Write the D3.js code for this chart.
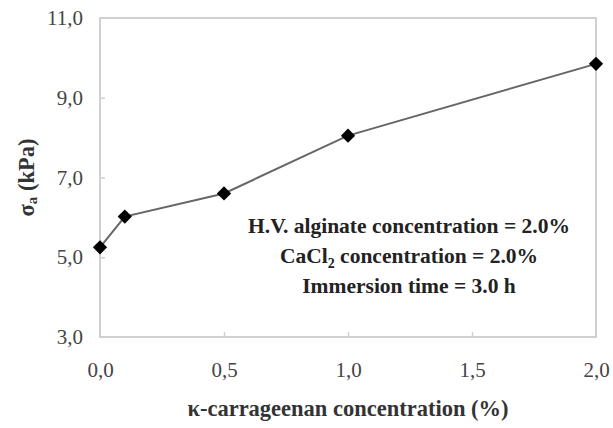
<!DOCTYPE html>
<html>
<head>
<meta charset="utf-8">
<script src="https://cdn.jsdelivr.net/npm/d3@7"></script>
<style>
  body { margin: 0; background: #fff; }
</style>
</head>
<body>
<div id="chart"></div>
<script>
// data
const concentration = [0.0, 0.1, 0.5, 1.0, 2.0]
const sigma = [5.25, 6.02, 6.6, 8.05, 9.85]
const xTicks = [0.0, 0.5, 1.0, 1.5, 2.0]
const yTicks = [3, 5, 7, 9, 11]
const notes = ['H.V. alginate concentration = 2.0%', 'CaCl|2| concentration = 2.0%', 'Immersion time = 3.0 h']

const width = 613, height = 428
const margin = {top: 18, right: 17, bottom: 91, left: 100}
const serif = 'Liberation Serif'

const svg = d3.select('#chart').append('svg')
  .attr('width', width)
  .attr('height', height)

const x = d3.scaleLinear().domain([0, 2]).range([margin.left, width - margin.right])
const y = d3.scaleLinear().domain([3, 11]).range([height - margin.bottom, margin.top])

const fmt = d => d3.format('.1f')(d).replace('.', ',')

// frame
svg.append('rect')
  .attr('x', x(0)).attr('y', y(11))
  .attr('width', x(2) - x(0)).attr('height', y(3) - y(11))
  .attr('fill', 'none').attr('stroke', '#d0d0d0').attr('stroke-width', 2)

// axes
const yAxis = svg.append('g')
  .attr('transform', `translate(${x(0)},0)`)
  .call(d3.axisLeft(y).tickValues(yTicks).tickFormat(fmt).tickSize(-5).tickPadding(17))
const xAxis = svg.append('g')
  .attr('transform', `translate(0,${y(3)})`)
  .call(d3.axisBottom(x).tickValues(xTicks).tickFormat(fmt).tickSize(-5).tickPadding(25))

;[xAxis, yAxis].forEach(g => {
  g.select('.domain').remove()
  g.selectAll('line').attr('stroke', '#d0d0d0').attr('stroke-width', 1.5)
  g.selectAll('text')
    .attr('font-family', serif)
    .attr('font-size', 21)
    .attr('fill', '#444')
})
xAxis.selectAll('.tick').filter(d => d === 0 || d === 2).select('line').remove()
yAxis.selectAll('.tick').filter(d => d === 3 || d === 11).select('line').remove()

// line + markers
const line = d3.line().x((d, i) => x(concentration[i])).y(d => y(d))
svg.append('path')
  .datum(sigma)
  .attr('d', line)
  .attr('fill', 'none')
  .attr('stroke', '#666')
  .attr('stroke-width', 2)

svg.append('g')
  .selectAll('path')
  .data(sigma)
  .join('path')
  .attr('d', d3.symbol(d3.symbolDiamond2, 130))
  .attr('transform', (d, i) => `translate(${x(concentration[i])},${y(d)})`)
  .attr('fill', '#000')

// annotation
const note = svg.append('text')
  .attr('font-family', serif)
  .attr('text-anchor', 'middle')
  .attr('font-weight', 'bold')
  .attr('font-size', 21.5)
  .attr('fill', '#222')
notes.forEach((s, i) => {
  const t = note.append('tspan').attr('x', 409).attr('y', 233 + i * 30)
  s.split('|').forEach((part, j) => {
    const sp = t.append('tspan').text(part)
    if (j === 1) sp.attr('font-size', 14).attr('dy', 5)
    if (j === 2) sp.attr('dy', -5)
  })
})

// axis titles
svg.append('text')
  .attr('font-family', serif)
  .attr('x', (x(0) + x(2)) / 2)
  .attr('y', 416)
  .attr('text-anchor', 'middle')
  .attr('font-weight', 'bold')
  .attr('font-size', 22.5)
  .attr('fill', '#333')
  .text('κ-carrageenan concentration (%)')

const yt = svg.append('text')
  .attr('font-family', serif)
  .attr('transform', `translate(34,${y(7)}) rotate(-90)`)
  .attr('text-anchor', 'middle')
  .attr('font-weight', 'bold')
  .attr('font-size', 22.5)
  .attr('fill', '#333')
yt.append('tspan').text('σ')
yt.append('tspan').text('a').attr('font-size', 15).attr('dy', 3)
yt.append('tspan').text(' (kPa)').attr('dy', -3)
</script>
</body>
</html>
